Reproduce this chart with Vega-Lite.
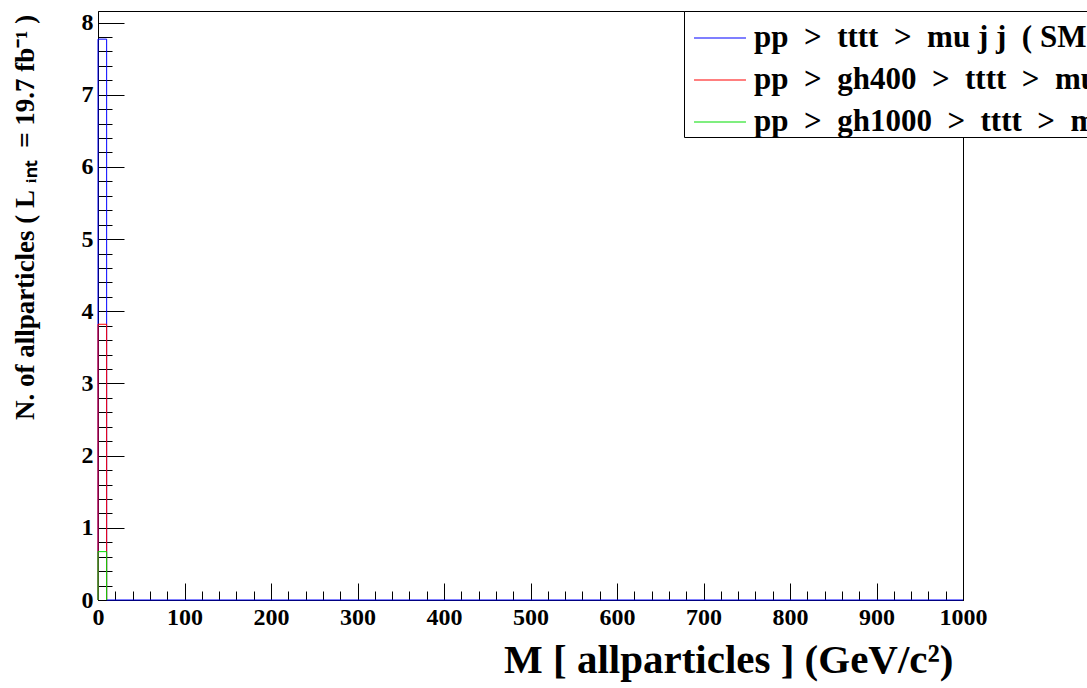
{
  "$schema": "https://vega.github.io/schema/vega-lite/v6.json",
  "width": 865,
  "height": 589,
  "autosize": {"type": "none"},
  "padding": {"left": 98, "top": 11, "right": 124, "bottom": 88},
  "background": "white",
  "config": {
    "view": {"stroke": "black", "strokeWidth": 1},
    "axis": {"grid": false, "domainColor": "black", "tickColor": "black", "labelColor": "black", "titleColor": "black",
      "labelFont": "Liberation Serif", "labelFontWeight": "bold", "titleFont": "Liberation Serif", "titleFontWeight": "bold",
      "labelFlush": false, "labelOverlap": false}
  },
  "data": {"values": [
    {"series": "pp\u00a0 >\u00a0 tttt\u00a0 >\u00a0 mu j j\u00a0 ( SM )", "i": 0, "x": 0, "v": 0},
    {"series": "pp\u00a0 >\u00a0 tttt\u00a0 >\u00a0 mu j j\u00a0 ( SM )", "i": 1, "x": 0, "v": 7.77},
    {"series": "pp\u00a0 >\u00a0 tttt\u00a0 >\u00a0 mu j j\u00a0 ( SM )", "i": 2, "x": 10, "v": 0},
    {"series": "pp\u00a0 >\u00a0 tttt\u00a0 >\u00a0 mu j j\u00a0 ( SM )", "i": 3, "x": 1000, "v": 0},
    {"series": "pp\u00a0 >\u00a0 gh400\u00a0 >\u00a0 tttt\u00a0 >\u00a0 mu j j", "i": 0, "x": 0, "v": 0},
    {"series": "pp\u00a0 >\u00a0 gh400\u00a0 >\u00a0 tttt\u00a0 >\u00a0 mu j j", "i": 1, "x": 0, "v": 3.82},
    {"series": "pp\u00a0 >\u00a0 gh400\u00a0 >\u00a0 tttt\u00a0 >\u00a0 mu j j", "i": 2, "x": 10, "v": 0},
    {"series": "pp\u00a0 >\u00a0 gh1000\u00a0 >\u00a0 tttt\u00a0 >\u00a0 mu j j", "i": 0, "x": 0, "v": 0},
    {"series": "pp\u00a0 >\u00a0 gh1000\u00a0 >\u00a0 tttt\u00a0 >\u00a0 mu j j", "i": 1, "x": 0, "v": 0.67},
    {"series": "pp\u00a0 >\u00a0 gh1000\u00a0 >\u00a0 tttt\u00a0 >\u00a0 mu j j", "i": 2, "x": 10, "v": 0}
  ]},
  "layer": [
    {
      "mark": {"type": "line", "interpolate": "step-after", "strokeWidth": 1},
      "encoding": {
        "x": {"field": "x", "type": "quantitative", "scale": {"domain": [0, 1000], "nice": false, "zero": false},
          "axis": {"orient": "bottom", "values": [0,100,200,300,400,500,600,700,800,900,1000], "format": "d", "tickSize": -17, "labelPadding": 22,
            "labelFontSize": 24, "title": "M [ allparticles ] (GeV/c²)", "titleFontSize": 41, "titleAlign": "right", "titleAnchor": "end",
            "titleX": 855, "titleY": 72, "titleBaseline": "alphabetic"}},
        "y": {"field": "v", "type": "quantitative", "scale": {"domain": [0, 8.16], "nice": false, "zero": false},
          "axis": {"orient": "left", "values": [0,1,2,3,4,5,6,7,8], "tickSize": -26, "labelPadding": 31, "labelFontSize": 24,
            "title": "N. of allparticles ( L\u00a0ᵢₙₜ\u00a0 = 19.7 fb⁻¹ )", "titleFontSize": 27, "titleAlign": "center", "titleBaseline": "middle",
            "titleX": -73, "titleY": 206}},
        "order": {"field": "i", "type": "quantitative"},
        "color": {"field": "series", "type": "nominal",
          "scale": {"domain": ["pp\u00a0 >\u00a0 tttt\u00a0 >\u00a0 mu j j\u00a0 ( SM )", "pp\u00a0 >\u00a0 gh400\u00a0 >\u00a0 tttt\u00a0 >\u00a0 mu j j", "pp\u00a0 >\u00a0 gh1000\u00a0 >\u00a0 tttt\u00a0 >\u00a0 mu j j"],
            "range": ["#0000ff", "#ff0000", "#00dd00"]},
          "legend": {"orient": "none", "legendX": 586, "legendY": 0, "title": null, "strokeColor": "black", "fillColor": "white",
            "padding": 0, "symbolOffset": 9, "cornerRadius": 0, "symbolType": "stroke", "symbolStrokeWidth": 1.2, "symbolSize": 2700,
            "labelFont": "Liberation Serif", "labelFontWeight": "bold", "labelFontSize": 31, "labelLimit": 2000, "labelColor": "black",
            "labelOffset": 7, "rowPadding": 0}}
      }
    },
    {
      "mark": {"type": "line", "opacity": 0},
      "encoding": {
        "x": {"field": "x", "type": "quantitative",
          "axis": {"orient": "bottom", "values": [0,20,40,60,80,100,120,140,160,180,200,220,240,260,280,300,320,340,360,380,400,420,440,460,480,500,520,540,560,580,600,620,640,660,680,700,720,740,760,780,800,820,840,860,880,900,920,940,960,980,1000],
            "tickSize": -9, "labels": false, "domain": false, "title": null}},
        "y": {"field": "v", "type": "quantitative",
          "axis": {"orient": "left", "values": [0,0.2,0.4,0.6,0.8,1,1.2,1.4,1.6,1.8,2,2.2,2.4,2.6,2.8,3,3.2,3.4,3.6,3.8,4,4.2,4.4,4.6,4.8,5,5.2,5.4,5.6,5.8,6,6.2,6.4,6.6,6.8,7,7.2,7.4,7.6,7.8,8],
            "tickSize": -14, "labels": false, "domain": false, "title": null}}
      }
    }
  ],
  "resolve": {"axis": {"x": "independent", "y": "independent"}}
}
